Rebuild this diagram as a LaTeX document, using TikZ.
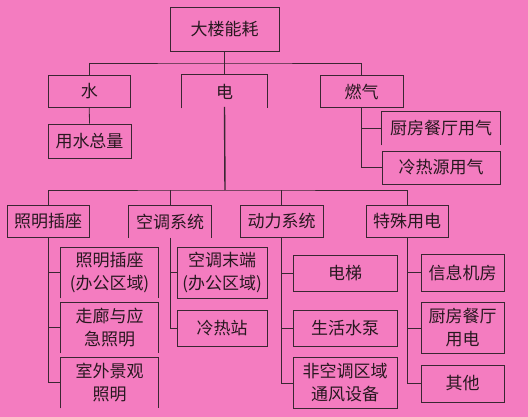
\documentclass[tikz,border=0pt]{standalone}
\usepackage{fontspec}
\newfontfamily\cjk{Noto Sans CJK SC}
\definecolor{bgpink}{RGB}{244,124,192}
\definecolor{linec}{RGB}{58,38,50}
\definecolor{txtc}{RGB}{40,24,32}
\tikzset{
  box/.style={draw=linec, line width=0.8pt, inner sep=0pt, align=center, text=txtc,
    font=\cjk\fontsize{17}{23}\selectfont},
  obox/.style={box, draw=none},
  link/.style={draw=linec, line width=0.8pt},
  trunk/.style={draw=linec, line width=1.4pt},
}
\begin{document}
\begin{tikzpicture}[x=1pt,y=-1pt]
\fill[bgpink] (0,0) rectangle (528,417);
\useasboundingbox (0,0) rectangle (528,417);
% level 0 and 1
\node[box, minimum width=109pt, minimum height=44pt] (top) at (224.5,29) {大楼能耗};
\node[box, minimum width=82.5pt, minimum height=32pt] (shui) at (89.25,91.5) {水};
\node[obox, minimum width=85pt, minimum height=33pt] (dian) at (224.5,91.5) {电};
\node[box, minimum width=83pt, minimum height=32pt] (gas) at (361.5,91.5) {燃气};
\node[box, minimum width=83pt, minimum height=34pt] (wtotal) at (89.5,141) {用水总量};
\node[obox, minimum width=118pt, minimum height=33pt] (kgas) at (441,128.5) {厨房餐厅用气};
\node[box, minimum width=118pt, minimum height=33pt] (hgas) at (441,167.5) {冷热源用气};
% level 2
\node[box, minimum width=82pt, minimum height=32pt] (light) at (48,221.5) {照明插座};
\node[obox, minimum width=82pt, minimum height=32pt] (ac) at (170,221.5) {空调系统};
\node[box, minimum width=83pt, minimum height=32pt] (power) at (281.5,221.5) {动力系统};
\node[box, minimum width=82pt, minimum height=32pt] (special) at (407,221.5) {特殊用电};
% level 3
\node[obox, minimum width=97pt, minimum height=50.5pt] (l1) at (109.5,272.75) {照明插座\\(办公区域)};
\node[obox, minimum width=97pt, minimum height=50.5pt] (l2) at (109.5,327.75) {走廊与应\\急照明};
\node[obox, minimum width=97pt, minimum height=50.5pt] (l3) at (109.5,382.75) {室外景观\\照明};
\node[box, minimum width=90pt, minimum height=50.5pt] (a1) at (222,272.75) {空调末端\\(办公区域)};
\node[box, minimum width=90pt, minimum height=36pt] (a2) at (222,328) {冷热站};
\node[box, minimum width=104pt, minimum height=36pt] (p1) at (345,273) {电梯};
\node[box, minimum width=104pt, minimum height=36pt] (p2) at (345,328) {生活水泵};
\node[box, minimum width=104pt, minimum height=51pt] (p3) at (345,383) {非空调区域\\通风设备};
\node[box, minimum width=83pt, minimum height=36.5pt] (s1) at (462.5,272.75) {信息机房};
\node[box, minimum width=83pt, minimum height=51pt] (s2) at (462.5,328) {厨房餐厅\\用电};
\node[box, minimum width=83pt, minimum height=37pt] (s3) at (462.5,383.5) {其他};
% open boxes (no bottom edge)
\foreach \n in {dian,kgas,ac,l1,l2,l3}
  \draw[link] (\n.south west) -- (\n.north west) -- (\n.north east) -- (\n.south east);
% bus coordinates
\coordinate (bus1) at (224.5,63);
\coordinate (bus2) at (225,190);
% connectors
\draw[link] (top.south) -- (dian.north);
\draw[link] (shui.north) |- (bus1) -| (gas.north);
\draw[link] (shui.south) -- (wtotal.north);
\draw[link] (gas.south) |- (kgas.west);
\draw[link] (gas.south) |- (hgas.west);
\draw[trunk] ([yshift=1.5pt]dian.south) -- (bus2);
\draw[link] (light.north) |- (bus2) -| (special.north);
\draw[link] (ac.north) -- (ac.north |- bus2);
\draw[link] (power.north) -- (power.north |- bus2);
\draw[link] (light.south) |- (l1.west);
\draw[link] (light.south) |- (l2.west);
\draw[link] (light.south) |- (l3.west);
\draw[link] (ac.south) |- (a1.west);
\draw[link] (ac.south) |- (a2.west);
\draw[link] (power.south) |- (p1.west);
\draw[link] (power.south) |- (p2.west);
\draw[link] (power.south) |- (p3.west);
\draw[link] (special.south) |- (s1.west);
\draw[link] (special.south) |- (s2.west);
\draw[link] (special.south) |- (s3.west);
\end{tikzpicture}
\end{document}
